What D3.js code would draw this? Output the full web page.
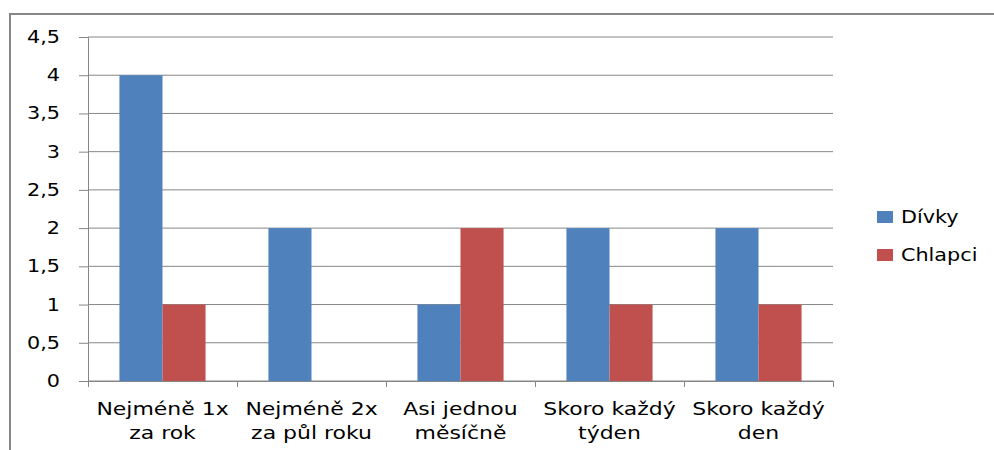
<!DOCTYPE html>
<html>
<head>
<meta charset="utf-8">
<script src="https://cdn.jsdelivr.net/npm/d3@7"></script>
<style>
    body { margin: 0; background: #fff; }
    text { font-family: "DejaVu Sans", sans-serif; fill: #000; }
</style>
</head>
<body>
<svg id="chart" width="994" height="450"></svg>
<script>
// data
const categories = [
    ["Nejméně 1x", "za rok"],
    ["Nejméně 2x", "za půl roku"],
    ["Asi jednou", "měsíčně"],
    ["Skoro každý", "týden"],
    ["Skoro každý", "den"]
];
const seriesNames = ["Dívky", "Chlapci"];
const divky = [4, 2, 1, 2, 2];
const chlapci = [1, 0, 2, 1, 1];
const yTicks = [0, 0.5, 1, 1.5, 2, 2.5, 3, 3.5, 4, 4.5];

const COLORS = { "Dívky": "#4F81BD", "Chlapci": "#C0504D" };

// text in the original is stretched sideways
const STRETCH = 1.22;

const svg = d3.select("#chart");

// outer border
svg.append("rect")
    .attr("x", 10).attr("y", 14)
    .attr("width", 990).attr("height", 450)
    .attr("fill", "none")
    .attr("stroke", "#868686")
    .attr("stroke-width", 2);

const margin = { left: 88, top: 37, right: 833, bottom: 381 };

const x = d3.scaleBand()
    .domain(d3.range(categories.length))
    .range([margin.left, margin.right]);

const x1 = d3.scaleBand()
    .domain(seriesNames)
    .range([0, x.bandwidth()])
    .paddingOuter(0.73)
    .paddingInner(0);

const y = d3.scaleLinear()
    .domain([0, 4.5])
    .range([margin.bottom, margin.top]);

// gridlines
svg.append("g")
    .selectAll("line")
    .data(yTicks)
    .join("line")
    .attr("x1", margin.left).attr("x2", margin.right)
    .attr("y1", d => y(d)).attr("y2", d => y(d))
    .attr("stroke", "#868686")
    .attr("stroke-width", 1);

// y axis
const yAxis = svg.append("g")
    .attr("transform", `translate(${margin.left},0)`)
    .call(d3.axisLeft(y).tickValues(yTicks).tickSize(9).tickPadding(14)
        .tickFormat(d => String(d).replace(".", ",")));
yAxis.select(".domain").attr("stroke", "#868686");
yAxis.selectAll(".tick line").attr("stroke", "#868686");
yAxis.selectAll("text")
    .style("font-size", "17px")
    .attr("transform", `scale(${STRETCH},1)`)
    .attr("fill", "#000");

// bars
const series = [divky, chlapci];
seriesNames.forEach((name, si) => {
    svg.append("g")
        .selectAll("rect")
        .data(series[si])
        .join("rect")
        .attr("x", (_d, i) => x(i) + x1(name))
        .attr("y", d => y(d))
        .attr("width", x1.bandwidth())
        .attr("height", d => y(0) - y(d))
        .attr("fill", COLORS[name]);
});

// x axis
const xAxis = svg.append("g")
    .attr("transform", `translate(0,${margin.bottom})`)
    .call(d3.axisBottom(d3.scaleLinear().domain([0, 5]).range([margin.left, margin.right]))
        .ticks(5).tickSize(6).tickFormat(""));
xAxis.select(".domain").attr("stroke", "#868686");
xAxis.selectAll(".tick line").attr("stroke", "#868686");

// category labels
svg.append("g")
    .selectAll("text")
    .data(categories)
    .join("text")
    .attr("transform", (_d, i) => `translate(${x(i) + x.bandwidth() / 2},415) scale(${STRETCH},1)`)
    .attr("text-anchor", "middle")
    .style("font-size", "18px")
    .selectAll("tspan")
    .data(d => d)
    .join("tspan")
    .attr("x", 0)
    .attr("y", (_d, j) => j * 24)
    .text(d => d);

// legend
const legend = svg.append("g")
    .selectAll("g")
    .data(seriesNames)
    .join("g")
    .attr("transform", (_d, i) => `translate(877,${211 + i * 38})`);
legend.append("rect")
    .attr("width", 16).attr("height", 12)
    .attr("fill", d => COLORS[d]);
legend.append("text")
    .attr("transform", `translate(24,12) scale(${STRETCH},1)`)
    .style("font-size", "17px")
    .text(d => d);
</script>
</body>
</html>
